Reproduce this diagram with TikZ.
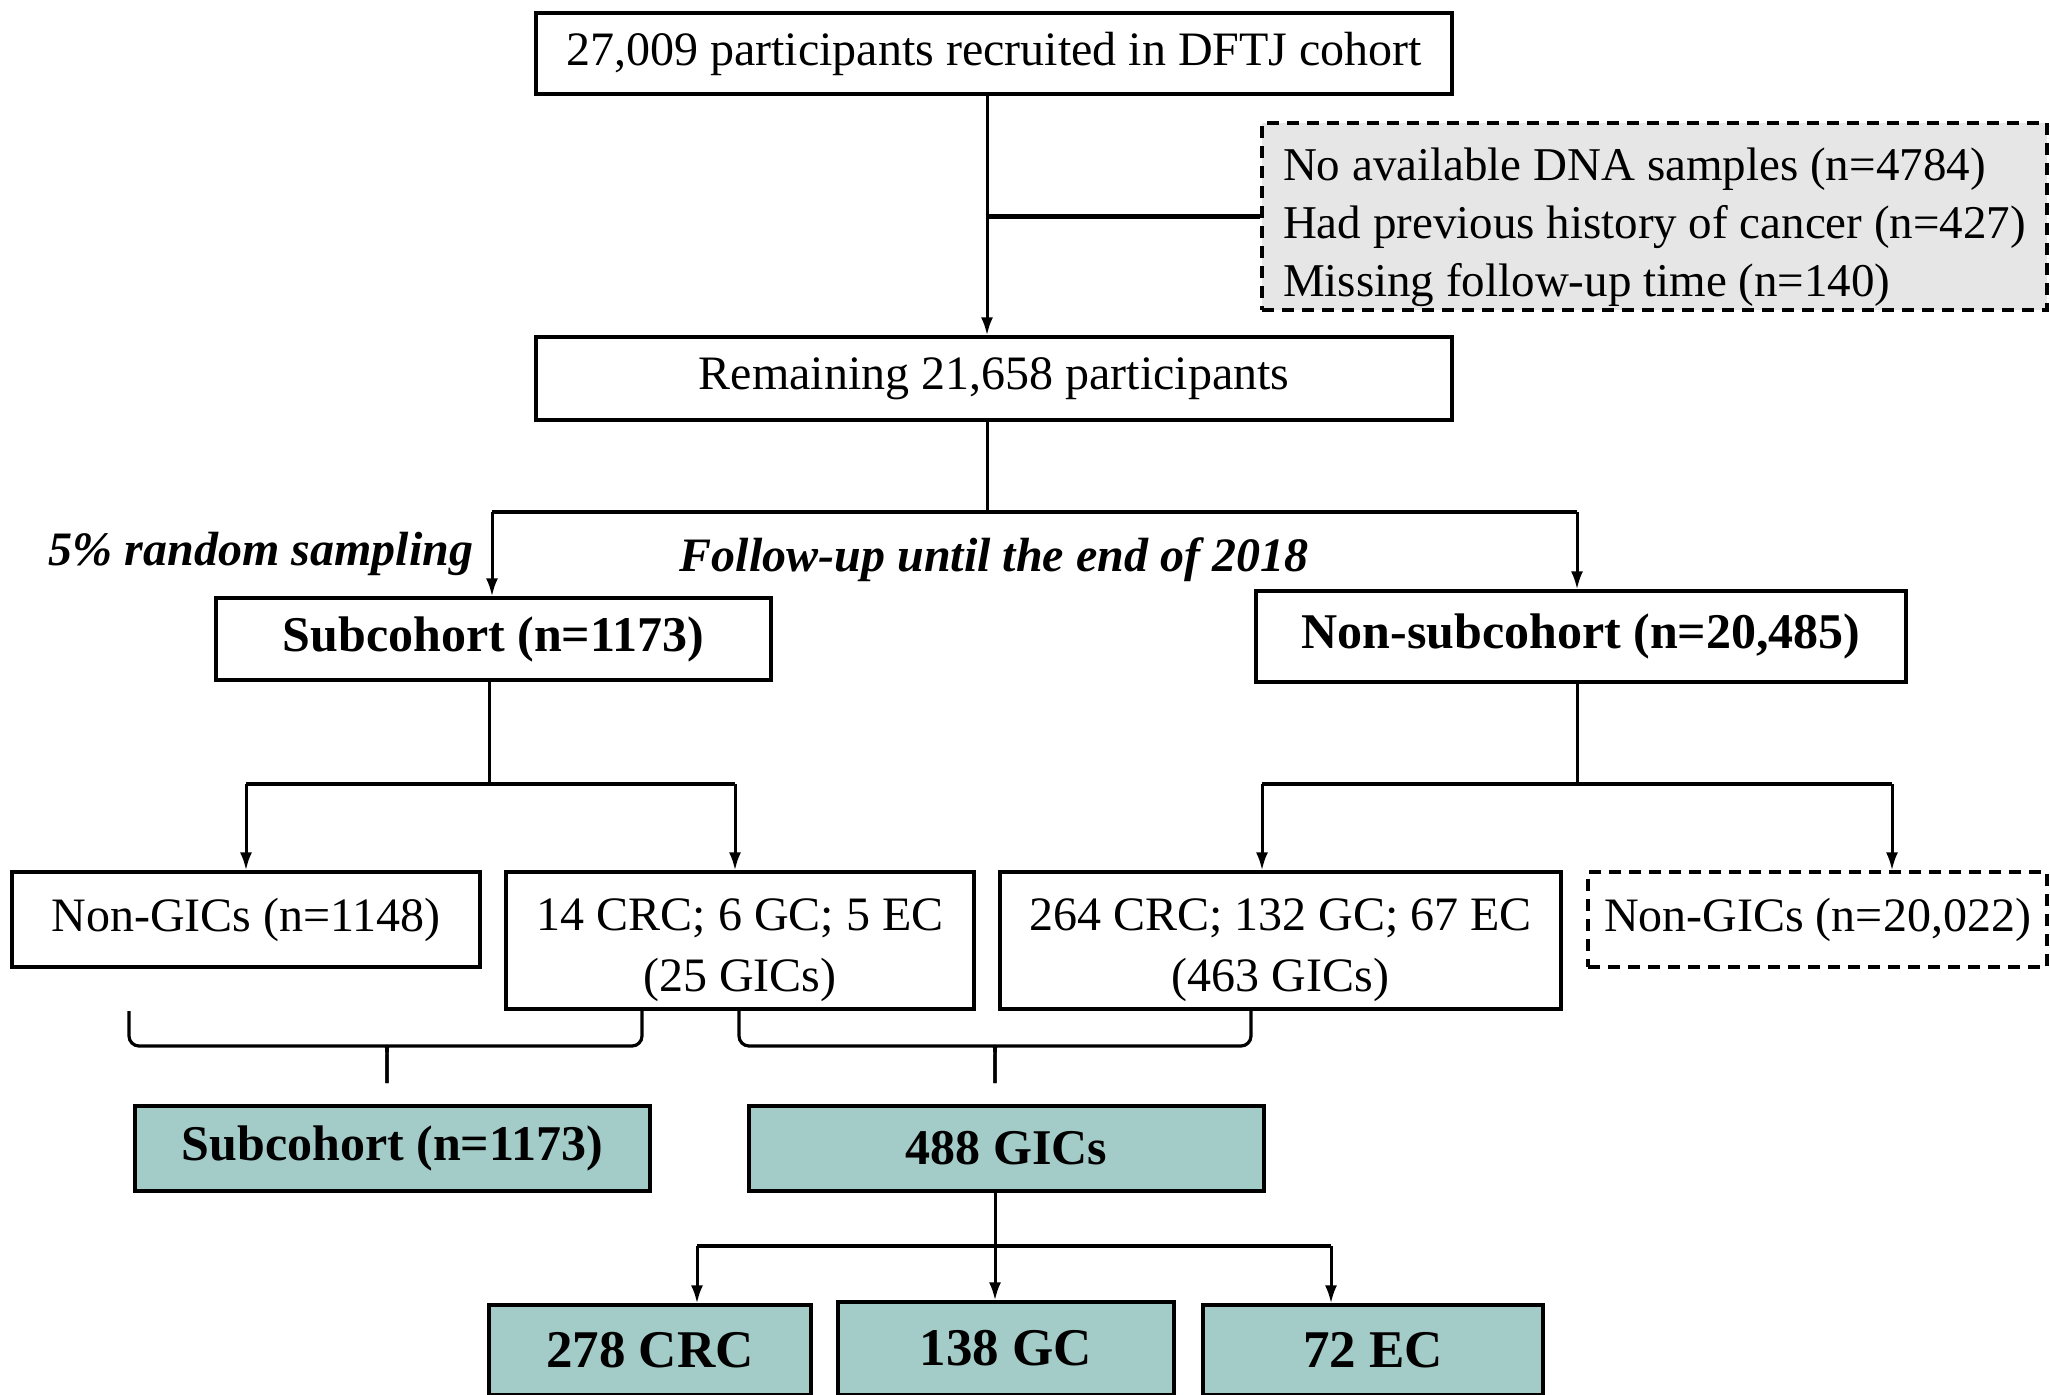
\documentclass[tikz,border=0pt]{standalone}
\usepackage{fontspec}
\setmainfont{Liberation Serif}
\usetikzlibrary{arrows.meta}
\definecolor{excludegray}{HTML}{E7E6E6}
\definecolor{finalteal}{HTML}{A3CBC7}
\tikzset{
  flowbox/.style={draw, line width=1.6pt, align=center, inner sep=0pt,
    font=\fontsize{24}{30.5}\selectfont},
  dashbox/.style={flowbox, dash pattern=on 6pt off 4pt},
  boldbox/.style={flowbox, font=\fontsize{25}{30}\selectfont\bfseries},
  resultbox/.style={boldbox, fill=finalteal},
  link/.style={line width=1.5pt},
  bar/.style={line width=2.2pt},
  arrow/.style={link, -{Latex[length=9pt,width=6pt]}},
  bracket/.style={line width=1.6pt, rounded corners=5pt},
  note/.style={font=\fontsize{24}{28}\selectfont\bfseries\itshape},
}

\begin{document}
\begin{tikzpicture}[x=0.5pt, y=-0.5pt]
\useasboundingbox (0,0) rectangle (2050,1394);
% Cohort and exclusions
\node[flowbox, minimum width=458pt, minimum height=40.5pt] (total) at (994,53.5)
  {27,009 participants recruited in DFTJ cohort};
\node[dashbox, fill=excludegray, align=left, inner xsep=7pt,
  minimum width=392.5pt, minimum height=93.5pt,
  font=\fontsize{23.5}{28.8}\selectfont] (excl) at (1654.5,216.5) {
  \rule{0pt}{27pt}No available DNA samples (n=4784)\\
  Had previous history of cancer (n=427)\\
  Missing follow-up time (n=140)
};
\node[flowbox, minimum width=458pt, minimum height=41.5pt] (remain) at (994,378.5)
  {Remaining 21,658 participants};
% Subcohort and non-subcohort
\node[boldbox, minimum width=277.5pt, minimum height=41pt] (sub) at (493.5,639)
  {Subcohort (n=1173)};
\node[boldbox, minimum width=325pt, minimum height=45.5pt] (nonsub) at (1581,636.5)
  {Non-subcohort (n=20,485)};
\node[note] (sampling) at (261,554) {5\% random sampling};
\node[note] (followup) at (994,560) {Follow-up until the end of 2018};
% Outcomes
\node[flowbox, minimum width=234pt, minimum height=47.5pt] (nongicsub) at (246,919.5)
  {Non-GICs (n=1148)};
\node[flowbox, minimum width=234pt, minimum height=68.5pt] (gicsub) at (740,940.5)
  {\rule{0pt}{25.5pt}14 CRC; 6 GC; 5 EC\\(25 GICs)};
\node[flowbox, minimum width=280.5pt, minimum height=68.5pt] (gicnonsub) at (1280.5,940.5)
  {\rule{0pt}{25.5pt}264 CRC; 132 GC; 67 EC\\(463 GICs)};
\node[dashbox, minimum width=229.5pt, minimum height=47.5pt] (nongicnonsub) at (1817.5,919.5)
  {Non-GICs (n=20,022)};
% Analysis sets
\node[resultbox, minimum width=257.5pt, minimum height=42.5pt] (subfinal) at (392.5,1148.5)
  {Subcohort (n=1173)};
\node[resultbox, minimum width=257.5pt, minimum height=42.5pt] (gicfinal) at (1006.5,1148.5)
  {488 GICs};
\node[resultbox, minimum width=161pt, minimum height=45pt,
  font=\fontsize{26.5}{30}\selectfont\bfseries] (crc) at (650,1350) {278 CRC};
\node[resultbox, minimum width=168pt, minimum height=46.5pt,
  font=\fontsize{26.5}{30}\selectfont\bfseries] (gc) at (1006,1348.5) {138 GC};
\node[resultbox, minimum width=170pt, minimum height=45pt,
  font=\fontsize{26.5}{30}\selectfont\bfseries] (ec) at (1373,1350) {72 EC};
% junction points
\coordinate (trunk) at (987,0);
\coordinate (split) at (987,512);
\coordinate (splitL) at (492,512);
\coordinate (splitR) at (1577,512);
\coordinate (subsplit) at (489,784);
\coordinate (subL) at (246,784);
\coordinate (subR) at (735,784);
\coordinate (nonsubsplit) at (1577,784);
\coordinate (nonsubL) at (1262,784);
\coordinate (nonsubR) at (1892,784);
\coordinate (gicsplit) at (995,1246);
\coordinate (gicL) at (697,1246);
\coordinate (gicR) at (1331,1246);
% connectors
\draw[arrow] (total.south -| trunk) -- (remain.north -| trunk);
\draw[bar] (excl.west -| trunk) -- (excl.west);
\draw[link] (remain.south -| split) -- (split);
\draw[bar] (splitL) -- (splitR);
\draw[arrow] (splitL) -- (splitL |- sub.north);
\draw[arrow] (splitR) -- (splitR |- nonsub.north);
\draw[link] (sub.south -| subsplit) -- (subsplit);
\draw[bar] (subL) -- (subR);
\draw[arrow] (subL) -- (subL |- nongicsub.north);
\draw[arrow] (subR) -- (subR |- gicsub.north);
\draw[link] (nonsub.south -| nonsubsplit) -- (nonsubsplit);
\draw[bar] (nonsubL) -- (nonsubR);
\draw[arrow] (nonsubL) -- (nonsubL |- gicnonsub.north);
\draw[arrow] (nonsubR) -- (nonsubR |- nongicnonsub.north);
\draw[bar] (gicL) -- (gicR);
\draw[arrow] (gicfinal.south -| gicsplit) -- (gc.north -| gicsplit);
\draw[arrow] (gicL) -- (gicL |- crc.north);
\draw[arrow] (gicR) -- (gicR |- ec.north);
% braces
\draw[bracket] (129,1011) -- (129,1046) -- (376,1046) .. controls (387,1046) and (387,1052) .. (387,1083);
\draw[bracket] (642,1011) -- (642,1046) -- (398,1046) .. controls (387,1046) and (387,1052) .. (387,1083);
\draw[bracket] (739,1011) -- (739,1046) -- (984,1046) .. controls (995,1046) and (995,1052) .. (995,1083);
\draw[bracket] (1251,1011) -- (1251,1046) -- (1006,1046) .. controls (995,1046) and (995,1052) .. (995,1083);
\end{tikzpicture}
\end{document}
